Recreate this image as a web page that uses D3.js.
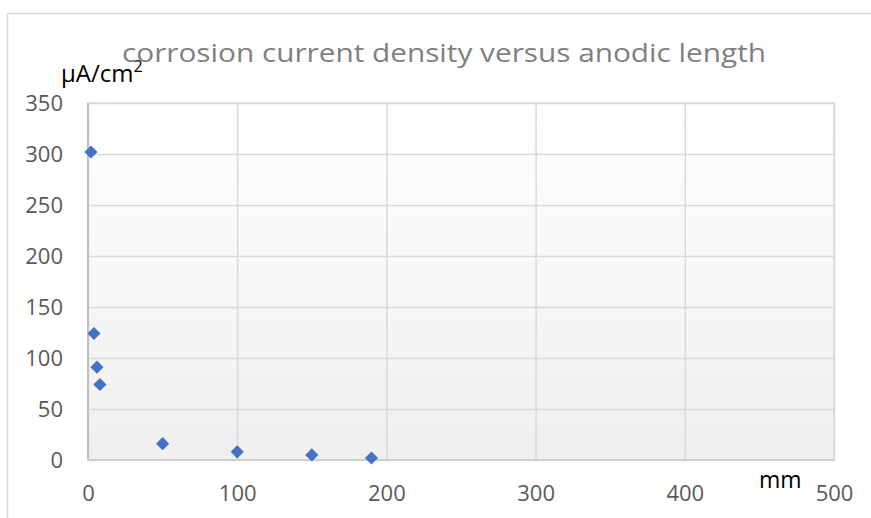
<!DOCTYPE html>
<html><head><meta charset="utf-8">
<script src="https://cdn.jsdelivr.net/npm/d3@7"></script>
<style>body{margin:0;background:#fff}svg{display:block}</style>
</head><body><svg id="c" width="871" height="518"></svg>
<script>
const lengthMM = [2, 4, 6, 8, 50, 100, 150, 190];
const currentDensity = [302, 124, 91, 74, 16, 8, 5, 2];
const xTicks = [0, 100, 200, 300, 400, 500];
const yTicks = [0, 50, 100, 150, 200, 250, 300, 350];
const titleText = "corrosion current density versus anodic length";
const yUnit = "μA/cm";
const xUnit = "mm";

const svg = d3.select("#c");
const font = "'Open Sans', sans-serif";
const L = 88, R = 834, T = 103, B = 460;
const x = d3.scaleLinear().domain([0, 500]).range([L, R]);
const y = d3.scaleLinear().domain([0, 350]).range([B, T]);

// chart frame
svg.append("rect").attr("x", 7.5).attr("y", 13.5).attr("width", 900).attr("height", 600)
  .attr("fill", "#fff").attr("stroke", "#d9d9d9").attr("stroke-width", 1.5);

const defs = svg.append("defs");
const g = defs.append("linearGradient").attr("id", "bg").attr("x1", 0).attr("y1", 0).attr("x2", 0).attr("y2", 1);
g.append("stop").attr("offset", "0%").attr("stop-color", "#ffffff");
g.append("stop").attr("offset", "100%").attr("stop-color", "#efefef");
svg.append("rect").attr("x", L).attr("y", T).attr("width", R - L).attr("height", B - T).attr("fill", "url(#bg)");

// grid
svg.append("g").attr("transform", `translate(0,${B})`)
  .call(d3.axisBottom(x).tickValues(xTicks).tickSize(-(B - T)).tickFormat(""))
  .call(s => { s.select(".domain").remove(); s.selectAll("line").attr("stroke", "#d9d9d9").attr("stroke-width", 1.5); });
svg.append("g").attr("transform", `translate(${L},0)`)
  .call(d3.axisLeft(y).tickValues(yTicks).tickSize(-(R - L)).tickFormat(""))
  .call(s => { s.select(".domain").remove(); s.selectAll("line").attr("stroke", "#d9d9d9").attr("stroke-width", 1.5); });
// plot border
svg.append("rect").attr("x", L).attr("y", T).attr("width", R - L).attr("height", B - T)
  .attr("fill", "none").attr("stroke", "#d9d9d9").attr("stroke-width", 1.5);
svg.append("line").attr("x1", L).attr("x2", L).attr("y1", T).attr("y2", B + 1).attr("stroke", "#bfbfbf").attr("stroke-width", 2);
svg.append("line").attr("x1", L - 1).attr("x2", R + 1).attr("y1", B).attr("y2", B).attr("stroke", "#cfcfcf").attr("stroke-width", 2);

// y tick labels
svg.append("g").attr("transform", `translate(63,0)`)
  .call(d3.axisLeft(y).tickValues(yTicks).tickSize(0).tickPadding(0))
  .call(s => { s.select(".domain").remove();
    s.selectAll("text").attr("font-family", font).attr("font-size", 22).attr("fill", "#595959"); });
// x tick labels
svg.append("g").attr("transform", `translate(0,485)`)
  .call(d3.axisBottom(x).tickValues(xTicks).tickSize(0).tickPadding(0))
  .call(s => { s.select(".domain").remove();
    s.selectAll("text").attr("font-family", font).attr("font-size", 22).attr("fill", "#595959"); });

// points
const sym = d3.symbol().type(d3.symbolDiamond2).size(110);
svg.append("g").selectAll("path").data(lengthMM.map((d, i) => [d, currentDensity[i]])).join("path")
  .attr("d", sym).attr("transform", d => `translate(${x(d[0])},${y(d[1])})`)
  .attr("fill", "#4472c4");

// title
svg.append("text").attr("x", 444).attr("y", 62).attr("text-anchor", "middle")
  .attr("font-family", font).attr("font-size", 26).attr("fill", "#808080")
  .attr("textLength", 644).attr("lengthAdjust", "spacingAndGlyphs").text(titleText);

// axis units
const yu = svg.append("text").attr("x", 61).attr("y", 82).attr("font-family", font).attr("font-size", 24).attr("fill", "#000");
yu.append("tspan").text(yUnit);
yu.append("tspan").attr("font-size", 16).attr("dy", -10).text("2");
svg.append("text").attr("x", 759).attr("y", 488).attr("font-family", font).attr("font-size", 23).attr("fill", "#000").text(xUnit);
</script></body></html>
